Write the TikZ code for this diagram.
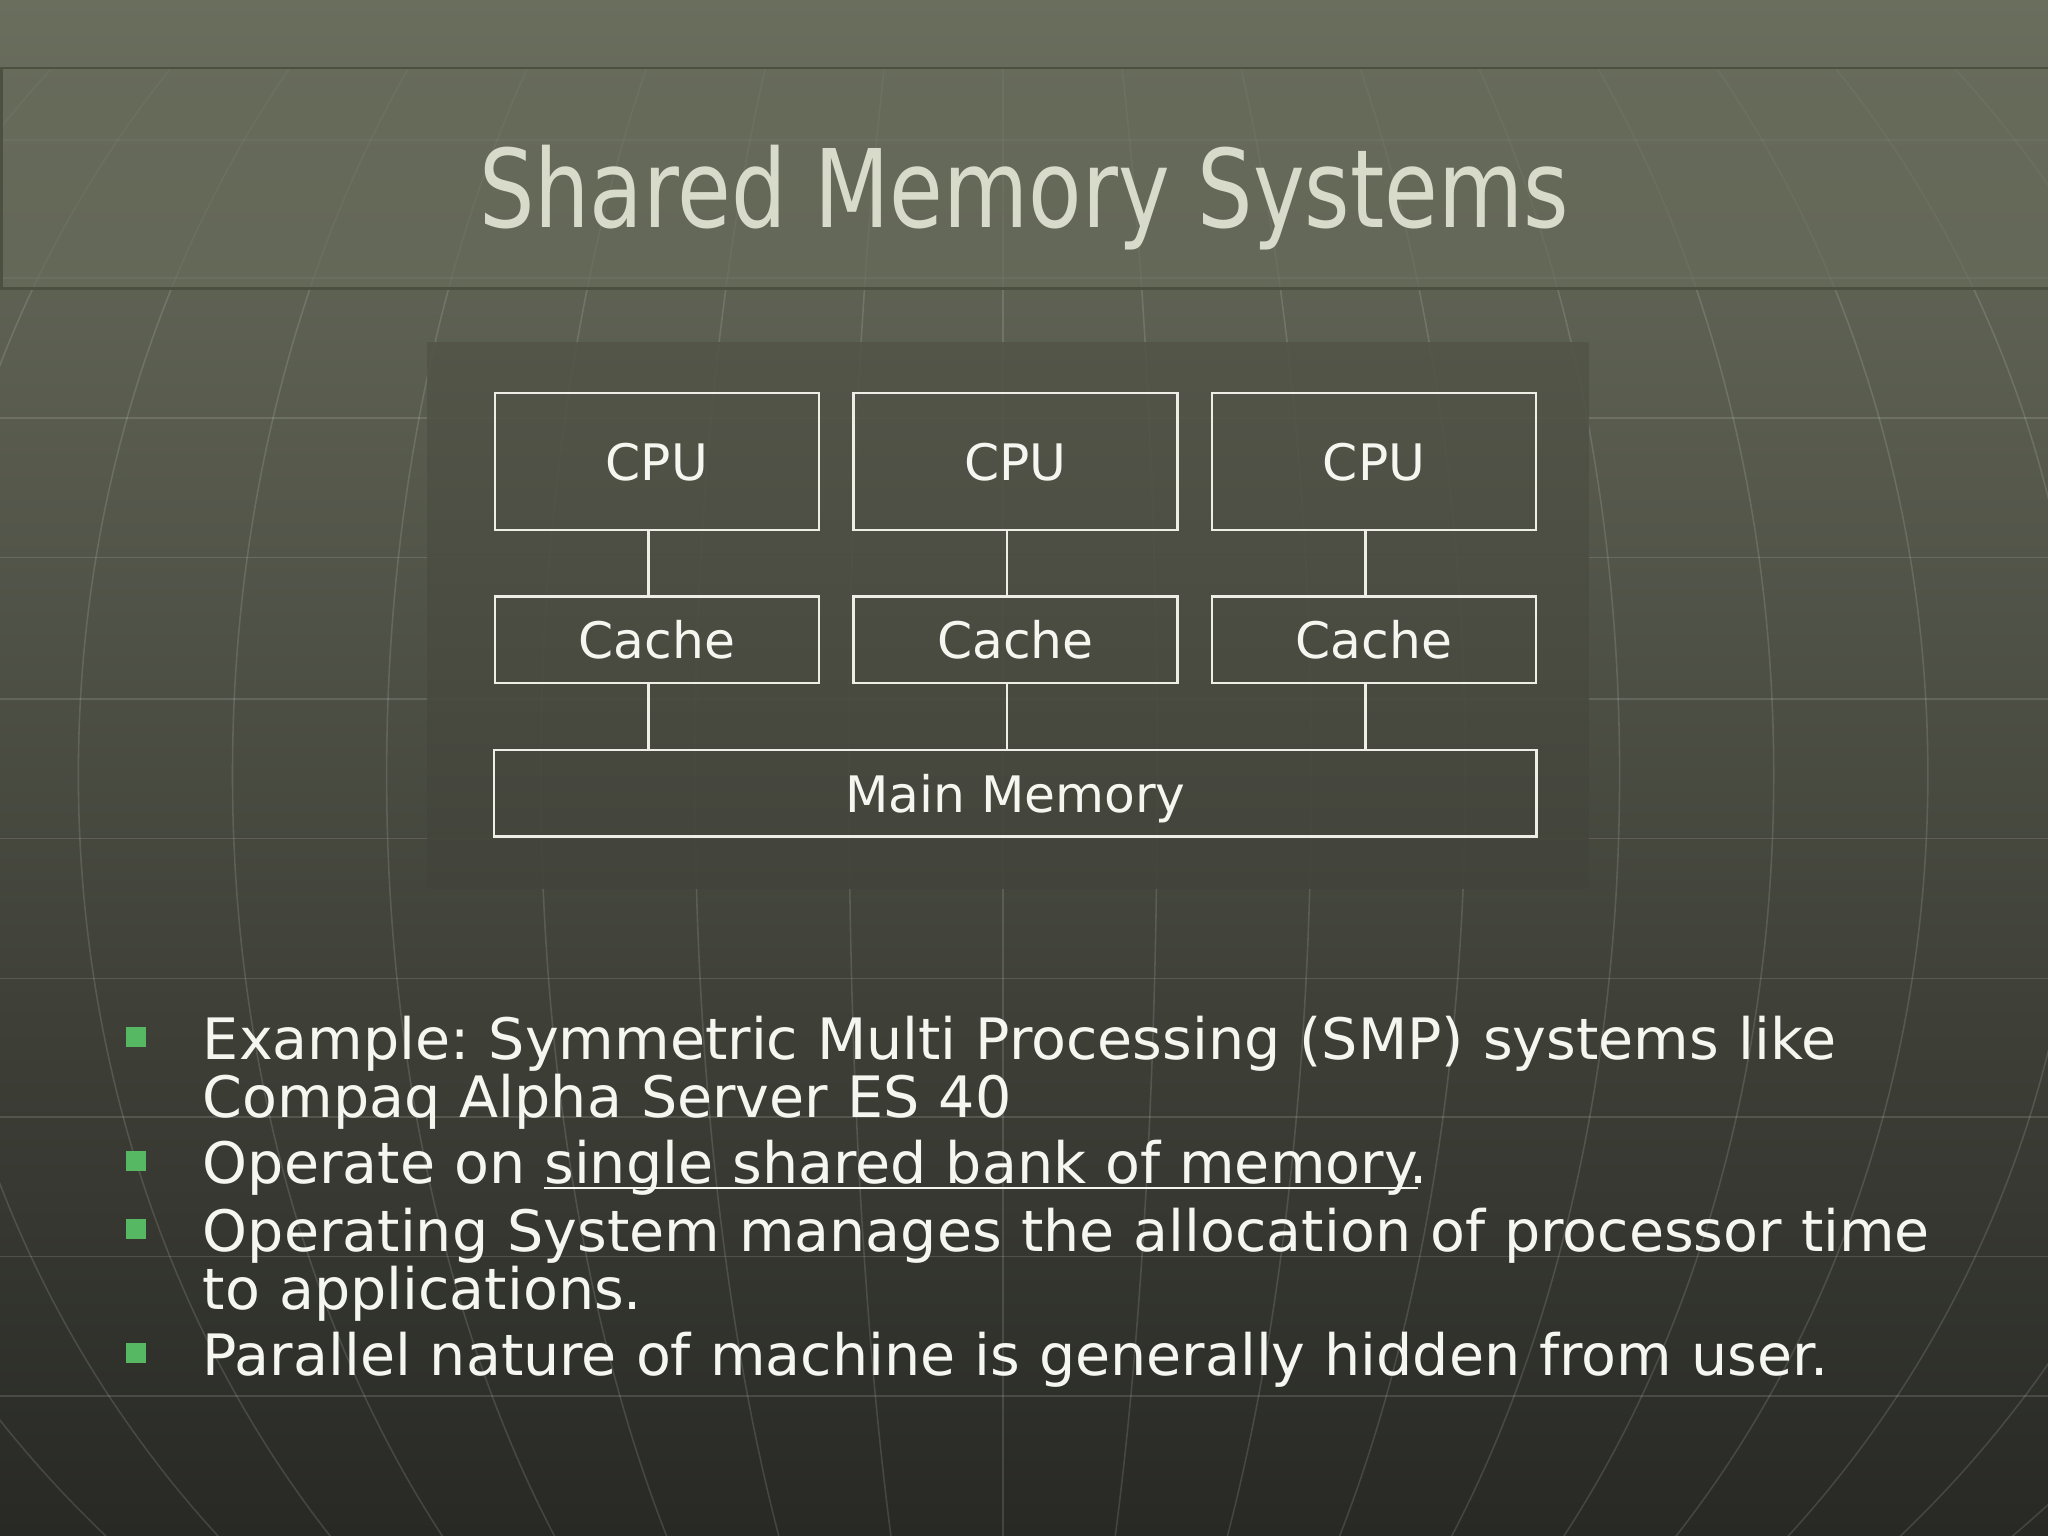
\documentclass[tikz,border=0pt]{standalone}
\usepackage{fontspec}
\setmainfont{DejaVu Sans}
\newfontfamily\titlefont[FakeStretch=0.806]{DejaVu Sans}
\frenchspacing

\definecolor{bgtop}{RGB}{106,110,93}
\definecolor{bgmid}{RGB}{73,75,65}
\definecolor{bgbot}{RGB}{40,41,37}
\definecolor{bandfill}{RGB}{103,107,90}
\definecolor{bandline}{RGB}{76,80,64}
\definecolor{titlecol}{RGB}{216,219,202}
\definecolor{txtcol}{RGB}{246,246,240}
\definecolor{boxline}{RGB}{238,238,230}
\definecolor{bulletgreen}{RGB}{86,184,98}
\definecolor{paneltop}{RGB}{83,85,73}
\definecolor{panelbot}{RGB}{66,68,59}

\newlength\ulwidth
\newcommand\myul[1]{\settowidth\ulwidth{#1}\rlap{\rule[-2.3pt]{\ulwidth}{1pt}}#1}

\begin{document}
\begin{tikzpicture}[x=0.5pt,y=-0.5pt,
  gridline/.style={white, opacity=0.13, line width=0.6pt},
  unitbox/.style={draw=boxline, line width=0.9pt, text=txtcol, inner sep=0pt,
    font=\fontsize{19.25}{23}\selectfont, text depth=0pt},
  cpubox/.style={unitbox, minimum width=124pt, minimum height=52.5pt},
  cachebox/.style={unitbox, minimum width=124pt, minimum height=33pt},
  membox/.style={unitbox, minimum width=399pt, minimum height=33pt},
  link/.style={draw=boxline, line width=0.9pt},
  bulletsq/.style={fill=bulletgreen, minimum size=7.75pt, inner sep=0pt},
  itemtext/.style={anchor=base west, text=txtcol, align=left, inner sep=0pt,
    text width=700pt, font=\fontsize{21.85}{20.5}\selectfont},
]
\useasboundingbox (0,0) rectangle (1568,1176);
\clip (0,0) rectangle (1568,1176);

% background
\shade[top color=bgtop, middle color=bgmid, bottom color=bgbot] (0,0) rectangle (1568,1176);

% globe grid
\begin{scope}
\clip (0,52) rectangle (1568,1176);
\foreach \yy in {107,213,320,427,535,642,749,855,962,1069} {
  \draw[gridline] (0,\yy) -- (1568,\yy);
}
\draw[gridline] (768,-300) -- (768,1300);
\foreach \aa in {118,236,354,472,590,708,826,944,1062} {
  \draw[gridline] (768,593) ellipse [x radius=\aa, y radius=850];
}
\end{scope}

% title band
\fill[bandfill, opacity=0.7] (0,52) rectangle (1568,221);
\draw[bandline, line width=1pt] (1,52) rectangle (1572,221);

% title
\node[anchor=base, text=titlecol, inner sep=0pt,
  font=\titlefont\fontsize{41.5}{45}\selectfont] (title) at (784,174) {Shared Memory Systems};

% diagram panel
\shade[top color=paneltop, bottom color=panelbot, opacity=0.9] (327,262) rectangle (1216,680);

% boxes
\node[cpubox] (cpu1) at (503,353.5) {CPU};
\node[cpubox] (cpu2) at (777.4,353.5) {CPU};
\node[cpubox] (cpu3) at (1052,353.5) {CPU};
\node[cachebox] (cache1) at (503,489.8) {Cache};
\node[cachebox] (cache2) at (777.4,489.8) {Cache};
\node[cachebox] (cache3) at (1052,489.8) {Cache};
\node[membox] (mem) at (777.4,607.4) {Main Memory};

% connectors
\foreach \i in {1,2,3} {
  \draw[link] ([xshift=-3.25pt]cpu\i.south) -- ([xshift=-3.25pt]cache\i.north);
  \coordinate (m\i) at ([xshift=-3.25pt]cache\i.south |- mem.north);
  \draw[link] ([xshift=-3.25pt]cache\i.south) -- (m\i);
}

% bullets
\node[bulletsq] (b1) at (104,794) {};
\node[bulletsq] (b2) at (104,889) {};
\node[bulletsq] (b3) at (104,941) {};
\node[bulletsq] (b4) at (104,1036) {};

\node[itemtext] (t1) at (155,811) {Example: Symmetric Multi Processing (SMP) systems like\\Compaq Alpha Server ES 40};
\node[itemtext] (t2) at (155,906) {Operate on \myul{single shared bank of memory}.};
\node[itemtext] (t3) at (155,958) {Operating System manages the allocation of processor time\\to applications.};
\node[itemtext] (t4) at (155,1053) {Parallel nature of machine is generally hidden from user.};
\end{tikzpicture}
\end{document}
